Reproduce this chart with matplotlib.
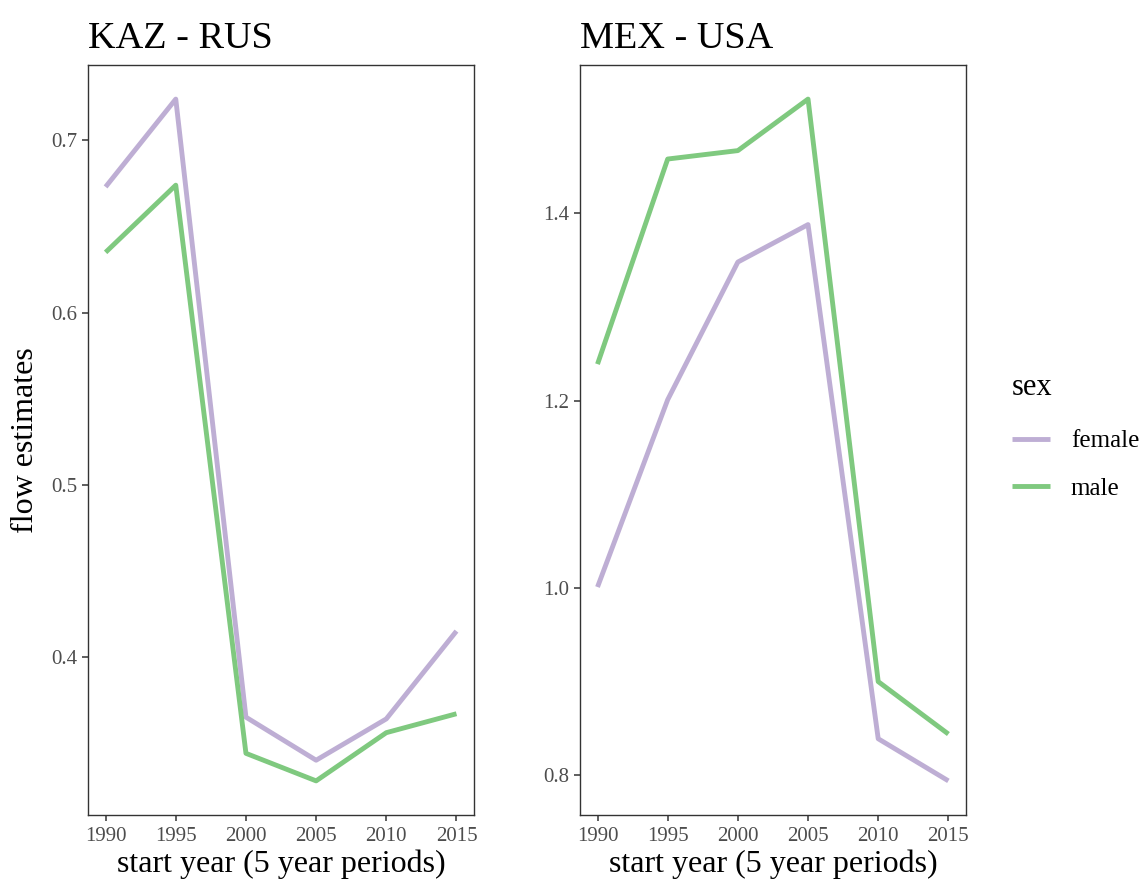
import numpy as np
import matplotlib
matplotlib.use('Agg')
import matplotlib.pyplot as plt

plt.rcParams['font.family'] = ['Liberation Serif', 'DejaVu Serif']

years = [1990, 1995, 2000, 2005, 2010, 2015]

# KAZ - RUS
kaz_female = [0.673, 0.724, 0.365, 0.340, 0.364, 0.415]
kaz_male = [0.635, 0.674, 0.344, 0.328, 0.356, 0.367]

# MEX - USA
mex_female = [1.001, 1.201, 1.348, 1.388, 0.839, 0.794]
mex_male = [1.239, 1.458, 1.467, 1.522, 0.900, 0.844]

panels = [('KAZ - RUS', kaz_female, kaz_male, [0.4, 0.5, 0.6, 0.7]),
          ('MEX - USA', mex_female, mex_male, [0.8, 1.0, 1.2, 1.4])]

col_female = '#BEAED4'
col_male = '#7FC97F'

fig = plt.figure(figsize=(11.48, 8.82), dpi=100)
axes = [fig.add_axes([0.0767, 0.076, 0.3362, 0.8503]),
        fig.add_axes([0.5052, 0.076, 0.3362, 0.8503])]

for ax, (title, fem, mal, yt) in zip(axes, panels):
    ax.plot(years, fem, color=col_female, lw=3.5, label='female', solid_capstyle='butt')
    ax.plot(years, mal, color=col_male, lw=3.5, label='male', solid_capstyle='butt')
    allv = np.array(fem + mal)
    lo, hi = allv.min(), allv.max()
    pad = (hi - lo) * 0.05
    ax.set_ylim(lo - pad, hi + pad)
    ax.set_xlim(1990 - 1.25, 2015 + 1.25)
    ax.set_xticks(years)
    ax.set_yticks(yt)
    ax.set_yticklabels(['%.1f' % v for v in yt])
    ax.tick_params(colors='#333333', labelcolor='#4D4D4D', labelsize=15, length=4, width=1.1)
    ax.tick_params(axis='x', pad=5)
    for s in ax.spines.values():
        s.set_color('#333333')
        s.set_linewidth(1.0)
    ax.set_title(title, loc='left', fontsize=27.5, pad=12)
    ax.set_xlabel('start year (5 year periods)', fontsize=23, labelpad=2)

axes[0].set_ylabel('flow estimates', fontsize=23, labelpad=8)

leg = fig.legend(handles=axes[0].get_lines(), labels=['female', 'male'], title='sex',
                 loc='center left', bbox_to_anchor=(0.862, 0.505), frameon=False,
                 fontsize=18, title_fontsize=22, handlelength=1.5, labelspacing=1.0,
                 handletextpad=0.85)
leg._legend_box.align = 'left'
leg._legend_box.sep = 20

fig.savefig('out.png', dpi=100)
